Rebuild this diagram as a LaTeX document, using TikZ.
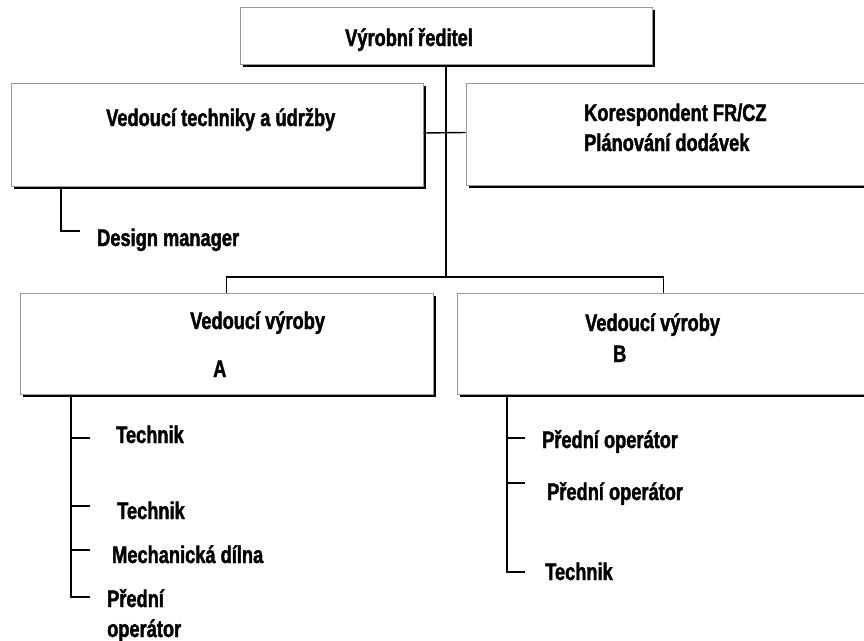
\documentclass[tikz,border=0pt]{standalone}
\usepackage{fontspec}
\setmainfont[FakeStretch=0.76,FakeBold=1.6]{Liberation Sans}
\usetikzlibrary{shadows}
\begin{document}
\begin{tikzpicture}[x=1pt,y=-1pt,
  orgbox/.style={draw=black!40, line width=1pt, fill=white, inner sep=0pt,
    drop shadow={shadow xshift=3pt, shadow yshift=-3pt, fill=black, opacity=1}},
  lbl/.style={anchor=base west, inner sep=0pt, align=left,
    font=\fontsize{24}{30}\selectfont\bfseries},
  link/.style={line width=1.4pt, draw=black}]

% canvas
\path[use as bounding box] (0,0) rectangle (864,640);
\clip (0,0) rectangle (864,640);

% junction points of the connectors
\coordinate (hub)    at (446,277);
\coordinate (dmRoot) at (61,189);
\coordinate (dmEnd)  at (80,231);
\coordinate (aRoot)  at (71,397);
\coordinate (a1) at (90,438);
\coordinate (a2) at (90,506);
\coordinate (a3) at (90,550);
\coordinate (a4) at (90,597);
\coordinate (bRoot)  at (507,397);
\coordinate (b1) at (525,438);
\coordinate (b2) at (525,483);
\coordinate (b3) at (525,572);

% boxes
\node[orgbox, minimum width=412pt, minimum height=57pt]  (top)  at (446,35.5)  {};
\node[orgbox, minimum width=412pt, minimum height=103pt] (mgr)  at (217,134.5) {};
\node[orgbox, minimum width=414pt, minimum height=102pt] (plan) at (673,134)   {};
\node[orgbox, minimum width=413pt, minimum height=101pt] (boxA) at (226.5,343.5) {};
\node[orgbox, minimum width=413pt, minimum height=101pt] (boxB) at (663.5,343.5) {};

% connectors
\draw[link] (top.south) -- (hub);
\draw[link] ([yshift=1.5pt]mgr.east) -- ([yshift=1.5pt]plan.west);
\draw[link] (boxA.north) |- (hub) -| (boxB.north);
\draw[link] (dmRoot) |- (dmEnd);
\draw[link] (aRoot) |- (a4);
\draw[link] (aRoot |- a1) -- (a1);
\draw[link] (aRoot |- a2) -- (a2);
\draw[link] (aRoot |- a3) -- (a3);
\draw[link] (bRoot) |- (b3);
\draw[link] (bRoot |- b1) -- (b1);
\draw[link] (bRoot |- b2) -- (b2);

% box labels
\node[lbl] (tTop)  at (345,46)  {Výrobní ředitel};
\node[lbl] (tMgr)  at (106,126) {Vedoucí techniky a údržby};
\node[lbl] (tPlan) at (584,121) {Korespondent FR/CZ};
\node[lbl] (tPlan2) at (584,151) {Plánování dodávek};
\node[lbl] (tA)    at (190,329) {Vedoucí výroby};
\node[lbl] (tA2)   at (213,377) {A};
\node[lbl] (tB)    at (585,331) {Vedoucí výroby};
\node[lbl] (tB2)   at (613,362) {B};

% subordinate positions
\node[lbl] (dm) at (97,246)  {Design manager};
\node[lbl] (la1) at (116,443) {Technik};
\node[lbl] (la2) at (117,519) {Technik};
\node[lbl] (la3) at (112,563) {Mechanická dílna};
\node[lbl] (la4) at (107,637) {Přední\\operátor};
\node[lbl] (lb1) at (542,448) {Přední operátor};
\node[lbl] (lb2) at (547,500) {Přední operátor};
\node[lbl] (lb3) at (545,580) {Technik};
\end{tikzpicture}
\end{document}
